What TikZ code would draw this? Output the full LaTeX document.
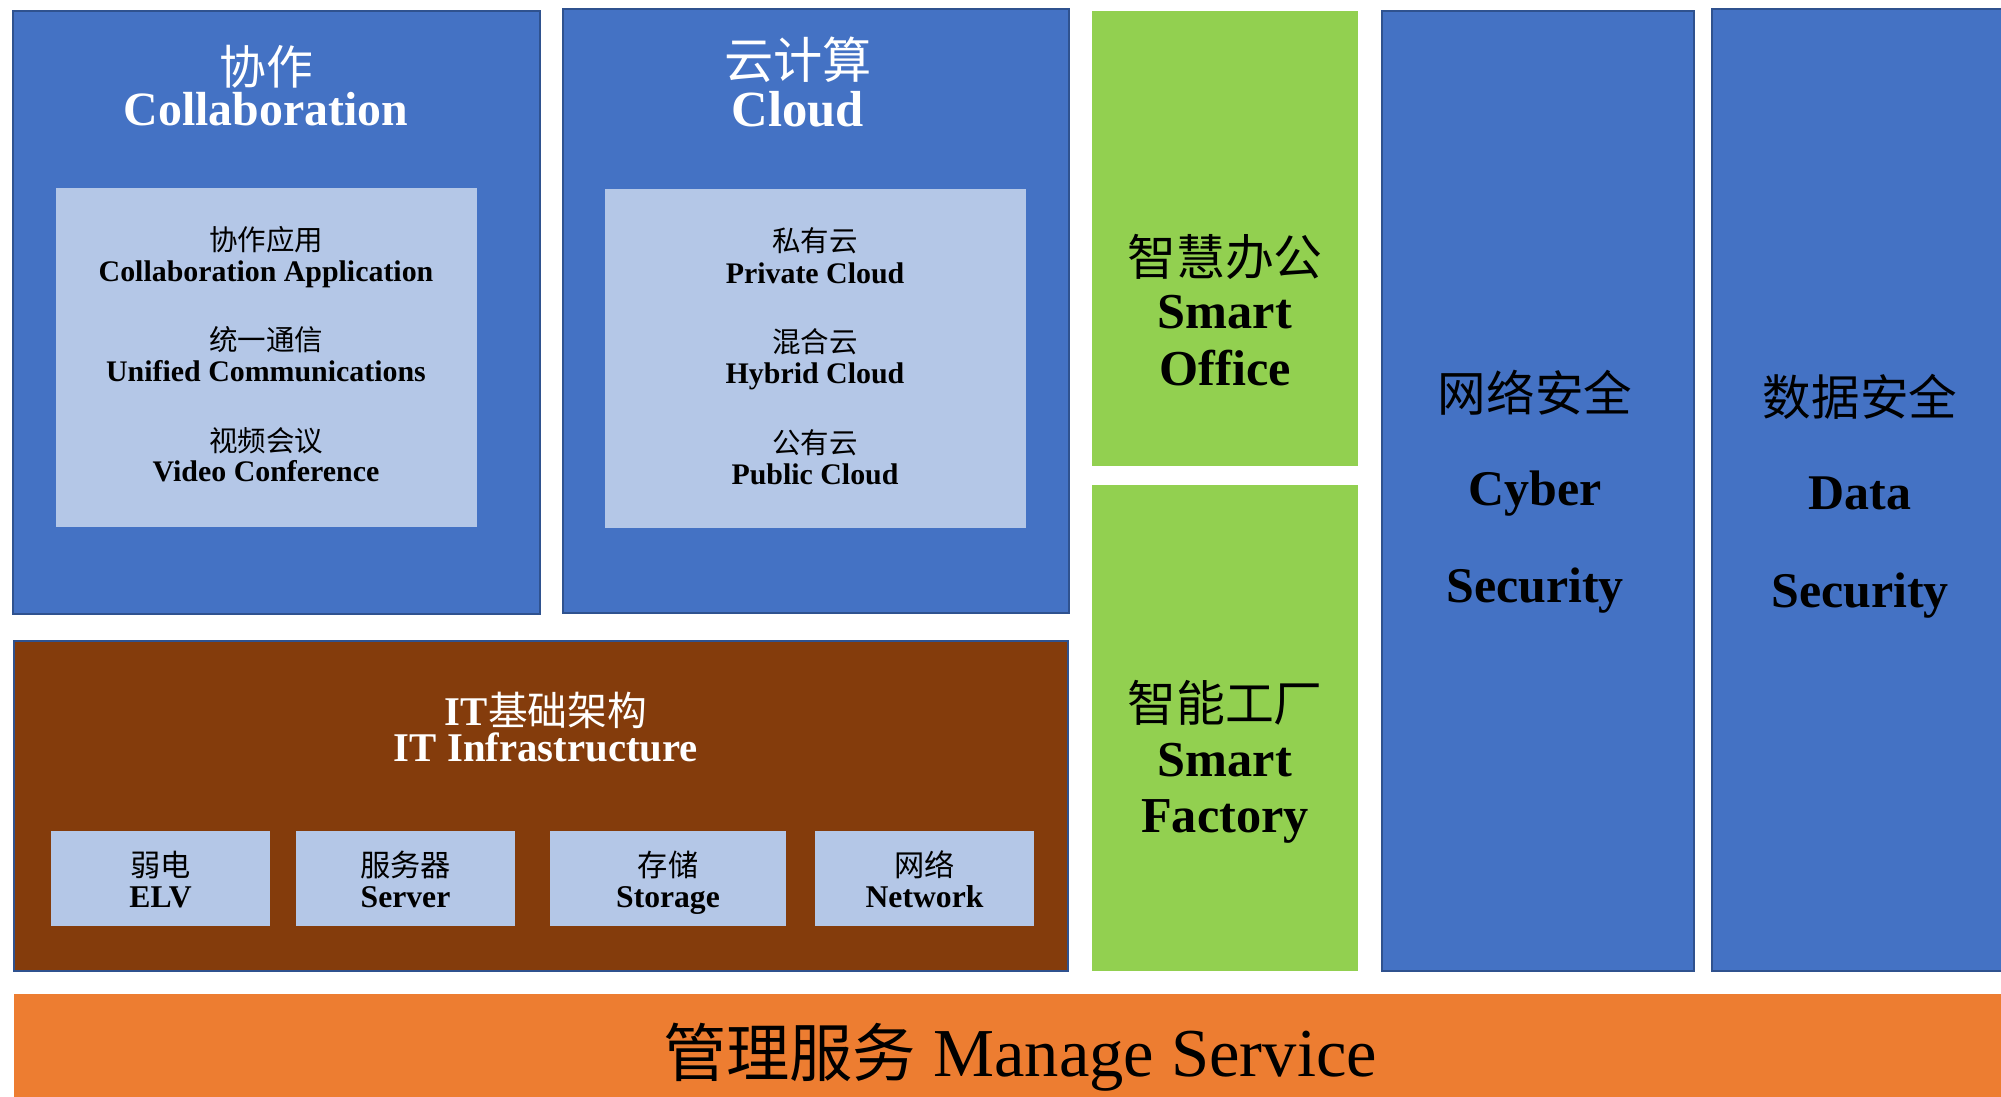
\documentclass[tikz,border=0pt]{standalone}
\usepackage{fontspec}
\setmainfont{Liberation Serif}
\newfontfamily\cjk{Noto Sans CJK SC}
\usepackage[HTML]{xcolor}
\usepackage{tikz}
\definecolor{tileblue}{HTML}{4472C4}
\definecolor{bordblue}{HTML}{2F528F}
\definecolor{paleblue}{HTML}{B4C7E7}
\definecolor{leafgreen}{HTML}{92D050}
\definecolor{rust}{HTML}{843C0C}
\definecolor{tangerine}{HTML}{ED7D31}
\newcommand{\setfs}[1]{\fontsize{#1}{#1}\selectfont}

\begin{document}
\begin{tikzpicture}[x=0.01cm, y=-0.01cm,
  blueblock/.style={draw=bordblue, fill=tileblue, line width=0.8pt},
  paleblock/.style={fill=paleblue},
  greenblock/.style={fill=leafgreen},
  zh/.style={inner sep=0pt, font=\cjk\setfs{#1}},
  en/.style={inner sep=0pt, anchor=base, font=\bfseries\setfs{#1}}]
\useasboundingbox (0,0) rectangle (2001,1096);
\clip (0,0) rectangle (2001,1096);
\fill[white] (0,0) rectangle (2001,1096);

% Collaboration
\draw[blueblock] (13,11) rectangle (540,614);
\fill[paleblock] (56,188) rectangle (477,527);
\node[zh=13.3, white] (collabzh) at (266,67) {协作};
\node[en=13.6, white] (collaben) at (266,125) {Collaboration};
\node[zh=8.1] (appzh) at (266,240) {协作应用};
\node[en=8.5] (appen) at (266,281) {Collaboration Application};
\node[zh=8.1] (uczh) at (266,340) {统一通信};
\node[en=8.5] (ucen) at (266,381) {Unified Communications};
\node[zh=8.1] (vczh) at (266,441) {视频会议};
\node[en=8.5] (vcen) at (266,481) {Video Conference};

% Cloud
\draw[blueblock] (563,9) rectangle (1069,613);
\fill[paleblock] (605,189) rectangle (1026,528);
\node[zh=14, white] (cloudzh) at (798,60) {云计算};
\node[en=14.4, white] (clouden) at (798,126) {Cloud};
\node[zh=8.1] (privzh) at (815,241) {私有云};
\node[en=8.5] (priven) at (815,283) {Private Cloud};
\node[zh=8.1] (hybzh) at (815,342) {混合云};
\node[en=8.5] (hyben) at (815,383) {Hybrid Cloud};
\node[zh=8.1] (pubzh) at (815,443) {公有云};
\node[en=8.5] (puben) at (815,484) {Public Cloud};

% Smart office / factory
\fill[greenblock] (1092,11) rectangle (1358,466);
\fill[greenblock] (1092,485) rectangle (1358,971);
\node[zh=13.9] (officezh) at (1225,257) {智慧办公};
\node[en=14.3] (officea) at (1225,328) {Smart};
\node[en=14.3] (officeb) at (1225,385) {Office};
\node[zh=13.9] (factoryzh) at (1225,703) {智能工厂};
\node[en=14.3] (factorya) at (1225,776) {Smart};
\node[en=14.3] (factoryb) at (1225,832) {Factory};

% Security columns
\draw[blueblock] (1382,11) rectangle (1694,971);
\draw[blueblock] (1712,9) rectangle (2020,971);
\node[zh=13.8] (cyberzh) at (1535,393) {网络安全};
\node[en=14.2] (cybera) at (1535,505) {Cyber};
\node[en=14.2] (cyberb) at (1535,602) {Security};
\node[zh=13.8] (datazh) at (1860,397) {数据安全};
\node[en=14.2] (dataa) at (1860,509) {Data};
\node[en=14.2] (datab) at (1860,607) {Security};

% IT infrastructure
\draw[bordblue, fill=rust, line width=0.8pt] (14,641) rectangle (1068,971);
\node[anchor=base, inner sep=0pt, white, font=\bfseries\setfs{11.6}] (itzh) at (546,725) {IT{\cjk\mdseries\setfs{11.3}基础架构}};
\node[en=11.6, white] (iten) at (546,761) {IT Infrastructure};
\foreach \l/\r/\cn/\lat/\nm in {51/270/弱电/ELV/elv, 296/515/服务器/Server/server,
    550/786/存储/Storage/storage, 815/1034/网络/Network/network} {
  \fill[paleblock] (\l,831) rectangle (\r,926);
  \node[zh=8.6] (\nm zh) at ({(\l+\r)/2},865) {\cn};
  \node[en=9] (\nm en) at ({(\l+\r)/2},907) {\lat};
}

% Manage service
\fill[tangerine] (14,994) rectangle (2020,1110);
\node[anchor=base, inner sep=0pt, font=\setfs{19.5}] (manage) at (1020,1076) {{\cjk\setfs{18}管理服务} Manage Service};
\end{tikzpicture}
\end{document}
